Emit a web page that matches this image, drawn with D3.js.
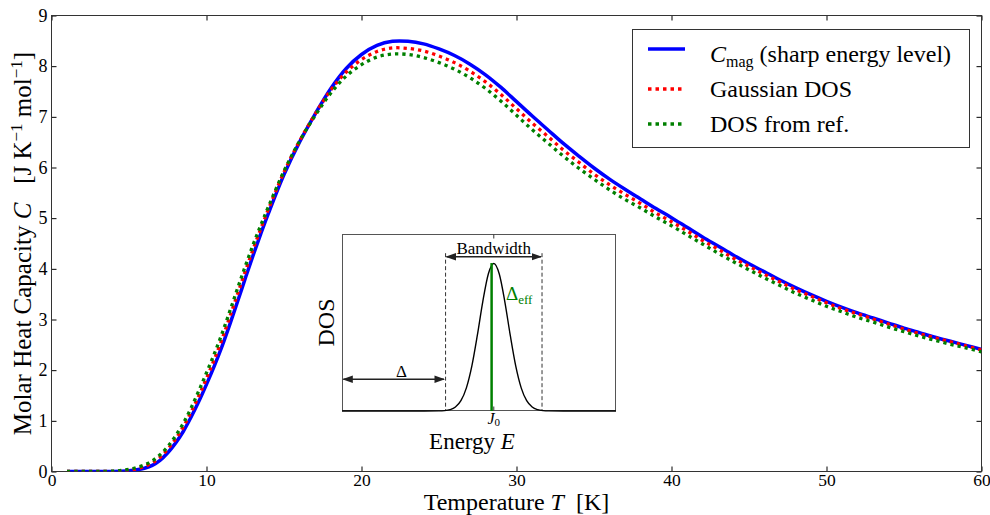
<!DOCTYPE html>
<html><head><meta charset="utf-8">
<script src="https://cdn.jsdelivr.net/npm/d3@7"></script>
<style>
body{margin:0;background:#fff}
svg{display:block}
text{font-family:"Liberation Serif","Times New Roman",serif;fill:#000}
</style>
</head><body>
<svg id="c" width="990" height="515"></svg>
<script>
// ---------- data ----------
const temps = [1,2,3,4,4.5,5,5.5,6,6.5,7,7.5,8,8.5,9,9.5,10,10.5,11,11.5,12,12.5,13,13.5,14,15,16,17,18,19,20,21,22,23,
  24,25,26,27,28,29,30,31,32,33,34,35,36,37,38,39,40,41,42,43,44,45,46,47,48,49,50,51,52,53,54,55,56,57,58,59,60];
const cSharp = [0,0,0.0001,0.002,0.006,0.015,0.034,0.065,0.12,0.22,0.37,0.56,0.79,1.07,1.38,1.72,2.08,2.47,2.90,3.35,3.81,4.26,4.69,5.10,5.86,6.50,7.05,7.55,7.95,8.23,8.41,8.49,8.49,
  8.44,8.34,8.21,8.04,7.83,7.58,7.30,7.02,6.75,6.48,6.23,5.99,5.77,5.57,5.38,5.19,5.01,4.82,4.63,4.45,4.27,4.10,3.94,3.78,3.63,3.49,3.36,3.24,3.13,3.03,2.93,2.83,2.74,2.65,2.57,2.49,2.41];
const cGauss = [0,0,0.0003,0.004,0.011,0.026,0.052,0.10,0.17,0.28,0.44,0.64,0.88,1.17,1.49,1.84,2.21,2.61,3.05,3.50,3.95,4.38,4.79,5.18,5.91,6.52,7.05,7.52,7.88,8.13,8.29,8.36,8.35,
  8.30,8.20,8.07,7.90,7.69,7.44,7.16,6.88,6.62,6.35,6.11,5.87,5.66,5.47,5.29,5.10,4.93,4.75,4.56,4.39,4.21,4.05,3.89,3.74,3.59,3.46,3.33,3.21,3.11,3.01,2.91,2.81,2.72,2.64,2.56,2.48,2.40];
const cRef = [0,0,0.001,0.009,0.022,0.045,0.08,0.13,0.21,0.33,0.49,0.70,0.95,1.25,1.59,1.95,2.32,2.72,3.16,3.61,4.05,4.47,4.86,5.23,5.93,6.52,7.02,7.46,7.80,8.03,8.18,8.24,8.23,
  8.17,8.07,7.94,7.77,7.56,7.31,7.03,6.75,6.49,6.23,5.99,5.77,5.56,5.37,5.20,5.02,4.85,4.67,4.49,4.31,4.14,3.98,3.82,3.67,3.52,3.39,3.26,3.15,3.04,2.95,2.85,2.76,2.67,2.59,2.51,2.44,2.36];
const xTicks = [0,10,20,30,40,50,60];
const yTicks = [0,1,2,3,4,5,6,7,8,9];
const seriesNames = ["sharp","gauss","ref"];
const seriesLabels = ["(sharp energy level)","Gaussian DOS","DOS from ref."];
const seriesColors = ["#0000ff","#ff0000","#008000"];

// inset schematic (DOS vs energy, arbitrary units)
const insetE   = [0,3.0,3.54,3.74,3.94,4.14,4.34,4.54,4.74,4.94,5.14,5.34,5.54,5.74,5.94,6.14,6.34,6.54,6.74,6.94,7.14,7.34,7.54,8.08,10];
const insetDOS = [0,0,0.0006,0.0025,0.009,0.027,0.070,0.157,0.306,0.514,0.744,0.929,1,0.929,0.744,0.514,0.306,0.157,0.070,0.027,0.009,0.0025,0.0006,0,0];
const bandEdges = [3.78,7.30];
const j0 = 5.54, deltaEff = 5.46;

// ---------- drawing ----------
const svg = d3.select("#c");
const x = d3.scaleLinear().domain([0,60]).range([51.5,981.5]);
const y = d3.scaleLinear().domain([0,9]).range([471.5,15.5]);

const defs = svg.append("defs");
defs.append("clipPath").attr("id","clip")
  .append("rect").attr("x",51.5).attr("y",15.5).attr("width",930).attr("height",456);

// axes
function styleAxis(g, fs){
  g.select(".domain").remove();
  g.selectAll(".tick line").attr("stroke","#000").attr("stroke-width",1);
  g.selectAll(".tick text").attr("font-family","Liberation Serif, serif").attr("font-size",fs).attr("fill","#000");
}
svg.append("g").attr("transform",`translate(0,${y(0)})`)
  .call(d3.axisBottom(x).tickValues(xTicks).tickFormat(d3.format("d")).tickSizeInner(-5).tickSizeOuter(0).tickPadding(2))
  .call(g=>styleAxis(g,17.5));
svg.append("g").attr("transform",`translate(0,${y(9)})`)
  .call(d3.axisTop(x).tickValues(xTicks).tickFormat("").tickSizeInner(-5).tickSizeOuter(0))
  .call(g=>styleAxis(g,18));
svg.append("g").attr("transform",`translate(${x(0)},0)`)
  .call(d3.axisLeft(y).tickValues(yTicks).tickFormat(d3.format("d")).tickSizeInner(-5).tickSizeOuter(0).tickPadding(4))
  .call(g=>styleAxis(g,18));
svg.append("g").attr("transform",`translate(${x(60)},0)`)
  .call(d3.axisRight(y).tickValues(yTicks).tickFormat("").tickSizeInner(-5).tickSizeOuter(0))
  .call(g=>styleAxis(g,18));

svg.append("rect").attr("x",x(0)).attr("y",y(9)).attr("width",x(60)-x(0)).attr("height",y(0)-y(9))
  .attr("fill","none").attr("stroke","#333").attr("stroke-width",1);

// curves
const seriesData = [cSharp,cGauss,cRef];
const lineGen = d3.line().x((d,i)=>x(temps[i])).y(d=>y(d)).curve(d3.curveCatmullRom.alpha(0.5));
const plot = svg.append("g").attr("clip-path","url(#clip)");
seriesData.forEach((vals,k)=>{
  plot.append("path").attr("d",lineGen(vals)).attr("fill","none")
    .attr("stroke",seriesColors[k]).attr("stroke-width",k===0?3.5:3.3)
    .attr("stroke-dasharray",k===0?null:"3.3,4");
});

// axis labels
const xl = svg.append("text").attr("x",(x(0)+x(60))/2).attr("y",509.5).attr("text-anchor","middle").attr("font-size",24);
xl.append("tspan").text("Temperature ");
xl.append("tspan").attr("font-style","italic").text("T");
xl.append("tspan").text("\u00a0\u00a0[K]");

const yl = svg.append("text").attr("transform",`translate(30.5,${(y(0)+y(9))/2}) rotate(-90)`).attr("text-anchor","middle").attr("font-size",25);
yl.append("tspan").text("Molar Heat Capacity ");
yl.append("tspan").attr("font-style","italic").text("C");
yl.append("tspan").text("\u00a0\u00a0\u00a0[J K");
yl.append("tspan").attr("font-size",17).attr("dy",-9).text("\u22121");
yl.append("tspan").attr("dy",9).text(" mol");
yl.append("tspan").attr("font-size",17).attr("dy",-9).text("\u22121");
yl.append("tspan").attr("dy",9).text("]");

// legend
const lg = svg.append("g");
lg.append("rect").attr("x",632.5).attr("y",29.5).attr("width",337).attr("height",118)
  .attr("fill","#fff").attr("stroke","#333").attr("stroke-width",1);
const rowY = [49,89,124], rowBase = [62,97,132];
seriesNames.forEach((s,k)=>{
  lg.append("line").attr("x1",648).attr("x2",685).attr("y1",rowY[k]).attr("y2",rowY[k])
    .attr("stroke",seriesColors[k]).attr("stroke-width",k===0?3.5:3.3)
    .attr("stroke-dasharray",k===0?null:"3.5,4");
  const t = lg.append("text").attr("x",710).attr("y",rowBase[k]).attr("font-size",24);
  if(k===0){
    t.append("tspan").attr("font-style","italic").text("C");
    t.append("tspan").attr("font-size",16).attr("dy",5).text("mag");
    t.append("tspan").attr("dy",-5).text(" "+seriesLabels[k]);
  } else t.text(seriesLabels[k]);
});

// inset
const xi = d3.scaleLinear().domain([0,10]).range([342,616]);
const yi = d3.scaleLinear().domain([0,1.2]).range([411,234]);
const ins = svg.append("g");
ins.append("rect").attr("x",342.5).attr("y",234.5).attr("width",273).attr("height",176)
  .attr("fill","#fff").attr("stroke","#555").attr("stroke-width",1);
// J0 ticks
ins.append("line").attr("x1",xi(j0)).attr("x2",xi(j0)).attr("y1",234.5).attr("y2",238.5).attr("stroke","#333");
ins.append("line").attr("x1",xi(j0)).attr("x2",xi(j0)).attr("y1",410.5).attr("y2",406.5).attr("stroke","#333");
// dashed band edges
bandEdges.forEach(e=>{
  ins.append("line").attr("x1",xi(e)).attr("x2",xi(e)).attr("y1",yi(1.07)).attr("y2",yi(0))
    .attr("stroke","#333").attr("stroke-width",1).attr("stroke-dasharray","4,2.5");
});
// DOS curve
ins.append("path").attr("d",d3.line().x((d,i)=>xi(insetE[i])).y(d=>yi(d)).curve(d3.curveMonotoneX)(insetDOS))
  .attr("fill","none").attr("stroke","#000").attr("stroke-width",1.4);
// green delta_eff line
ins.append("line").attr("x1",xi(deltaEff)).attr("x2",xi(deltaEff)).attr("y1",yi(0)).attr("y2",yi(1.003))
  .attr("stroke","#008000").attr("stroke-width",2.5);
// arrows
defs.append("marker").attr("id","ah").attr("viewBox","0 0 10 10").attr("refX",9).attr("refY",5)
  .attr("markerWidth",7).attr("markerHeight",7).attr("orient","auto-start-reverse")
  .append("path").attr("d","M0,1.5L10,5L0,8.5Z").attr("fill","#222");
ins.append("line").attr("x1",xi(bandEdges[0])+1).attr("x2",xi(bandEdges[1])-1).attr("y1",yi(1.046)).attr("y2",yi(1.046))
  .attr("stroke","#222").attr("stroke-width",1.5).attr("marker-start","url(#ah)").attr("marker-end","url(#ah)");
ins.append("line").attr("x1",xi(0.05)).attr("x2",xi(3.72)).attr("y1",yi(0.215)).attr("y2",yi(0.215))
  .attr("stroke","#222").attr("stroke-width",1.5).attr("marker-start","url(#ah)").attr("marker-end","url(#ah)");
// inset texts
ins.append("text").attr("x",(xi(bandEdges[0])+xi(bandEdges[1]))/2).attr("y",254).attr("text-anchor","middle").attr("font-size",17).text("Bandwidth");
ins.append("text").attr("x",401.5).attr("y",376.5).attr("text-anchor","middle").attr("font-size",17).text("\u0394");
const de = ins.append("text").attr("x",506).attr("y",300).attr("font-size",19).attr("fill","#008000");
de.append("tspan").attr("fill","#008000").text("\u0394");
de.append("tspan").attr("fill","#008000").attr("font-size",13).attr("dy",4).text("eff");
const jl = ins.append("text").attr("x",xi(j0)).attr("y",424).attr("text-anchor","middle").attr("font-size",16);
jl.append("tspan").attr("font-style","italic").text("J");
jl.append("tspan").attr("font-size",11).attr("dy",2).text("0");
const el = ins.append("text").attr("x",472).attr("y",449).attr("text-anchor","middle").attr("font-size",23);
el.append("tspan").text("Energy ");
el.append("tspan").attr("font-style","italic").text("E");
ins.append("text").attr("transform",`translate(334,${(yi(0)+yi(1.2))/2}) rotate(-90)`).attr("text-anchor","middle").attr("font-size",24).text("DOS");
</script>
</body></html>
